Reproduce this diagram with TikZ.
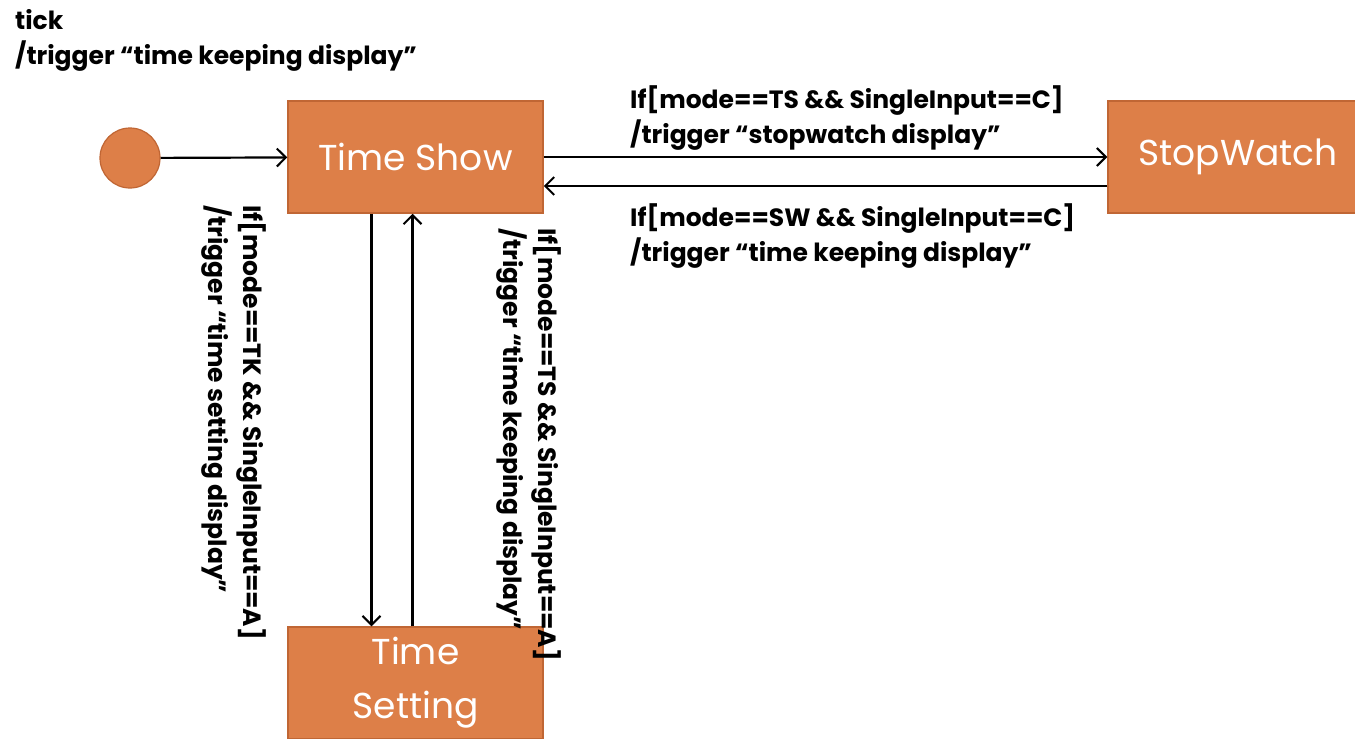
\documentclass[tikz,border=0pt]{standalone}
\usepackage{fontspec}
\setmainfont{Poppins}
\usetikzlibrary{arrows.meta,positioning,calc}

\definecolor{stateorange}{RGB}{221,127,72}
\definecolor{stateedge}{RGB}{192,102,52}

\tikzset{
  statebox/.style={draw=stateedge, line width=1.5, fill=stateorange, minimum width=255,
    minimum height=112, inner sep=0, text=white, align=center,
    font=\fontsize{36}{54}\selectfont},
  trans/.style={line width=2.2, -{Straight Barb[length=9,width=18,line width=2]}},
  guard/.style={inner sep=0, align=left, font=\bfseries\fontsize{25}{35}\selectfont},
}

\begin{document}
\begin{tikzpicture}[x=1pt,y=-1pt]
    \useasboundingbox (0,0) rectangle (1355,739);
    \clip (0,0) rectangle (1355,739);

    % Estados
    \node[circle, fill=stateorange, draw=stateedge, line width=1.2, minimum size=60, inner sep=0] (init) at (130,158) {};
    \node[statebox] (show) at (415.5,157) {Time Show};
    \node[statebox, minimum width=260] (watch) at (1238,157) {StopWatch};
    \node[statebox] (setting) at (415.5,683) {Time\\Setting};

    % Transiciones
    \draw[trans] (init) -- (show);
    \draw[trans] (show.east) -- (watch.west);
    \draw[trans] ([yshift=-29]watch.west) -- ([yshift=-29]show.east);
    \draw[trans] ([xshift=-44]show.south) -- ([xshift=-44]setting.north);
    \draw[trans] ([xshift=-3]setting.north) -- ([xshift=-3]show.south);

    % Etiquetas
    \node[guard, anchor=north west] (tickLbl) at (15,9) {tick\\/trigger “time keeping display”};
    \node[guard, anchor=north west] (toWatchLbl) at (630,85) {If[mode==TS \&\& SingleInput==C]\\/trigger “stopwatch display”};
    \node[guard, anchor=north west] (fromWatchLbl) at (630,203) {If[mode==SW \&\& SingleInput==C]\\/trigger “time keeping display”};
    \node[guard, rotate=-90, anchor=north west] (toSetLbl) at (267,205) {If[mode==TK \&\& SingleInput==A]\\/trigger “time setting display”};
    \node[guard, rotate=-90, anchor=north west] (fromSetLbl) at (562,228) {If[mode==TS \&\& SingleInput==A]\\/trigger “time keeping display”};
\end{tikzpicture}
\end{document}
